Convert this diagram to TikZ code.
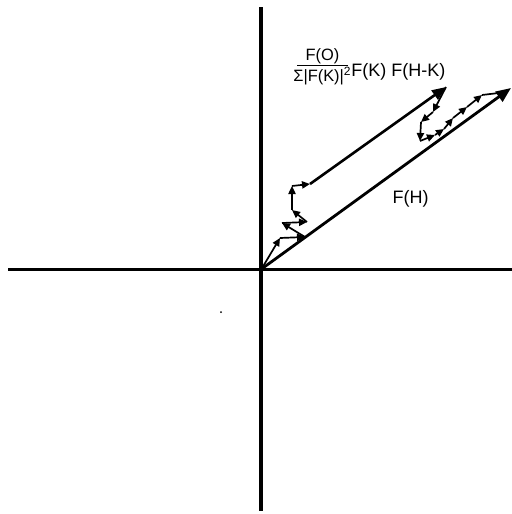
\documentclass[tikz,border=0pt]{standalone}
\usepackage{fontspec}
\setmainfont{Liberation Sans}
\usetikzlibrary{arrows.meta}
\begin{document}
\begin{tikzpicture}[x=0.5pt,y=-0.5pt,
  axis/.style={line width=1.6pt},
  bigvec/.style={line width=1.4pt,-{Triangle[length=7.5pt,width=6pt]}},
  midvec/.style={line width=1.3pt,-{Triangle[length=7pt,width=5.5pt]}},
  smallvec/.style={line width=0.85pt,-{Triangle[length=4pt,width=3.6pt]}},
  lbl/.style={inner sep=0pt,font=\fontsize{9}{10}\selectfont},
  fraclbl/.style={inner sep=0pt,font=\fontsize{8.2}{10}\selectfont}]
\useasboundingbox (0,0) rectangle (512,514);
% axes
\coordinate (L) at (8,269.5);
\coordinate (R) at (512,269.5);
\coordinate (Top) at (261,7);
\coordinate (Bot) at (261,511);
\coordinate (O) at (261.5,269);
\draw[axis] (L) -- (R);
\draw[axis] (Top) -- (Bot);
% F(H)
\coordinate (H) at (511,88);
\draw[bigvec] (O) -- (H);
% chain 1
\coordinate (a1) at (280,238);
\coordinate (a2) at (305,237);
\coordinate (a3) at (282,223);
\coordinate (a4) at (307,222);
\coordinate (a5) at (292,210);
\coordinate (a6) at (292,186);
\coordinate (a7) at (310,184);
\coordinate (T) at (446,87);
\draw[smallvec] (O) -- (a1);
\draw[smallvec] (a1) -- (a2);
\draw[smallvec] (a2) -- (a3);
\draw[smallvec] (a3) -- (a4);
\draw[smallvec] (a4) -- (a5);
\draw[smallvec] (a5) -- (a6);
\draw[smallvec] (a6) -- (a7);
\draw[midvec] (a7) -- (T);
% chain 2
\coordinate (b1) at (433,112);
\coordinate (b2) at (421,122);
\coordinate (b3) at (420,141);
\coordinate (b4) at (435,135);
\coordinate (b5) at (444,129);
\coordinate (b6) at (453,118);
\coordinate (b7) at (467,107);
\coordinate (b8) at (482,95);
\coordinate (b9) at (507,92);
\draw[smallvec] (T) -- (b1);
\draw[smallvec] (b1) -- (b2);
\draw[smallvec] (b2) -- (b3);
\draw[smallvec] (b3) -- (b4);
\draw[smallvec] (b4) -- (b5);
\draw[smallvec] (b5) -- (b6);
\draw[smallvec] (b6) -- (b7);
\draw[smallvec] (b7) -- (b8);
\draw[line width=0.85pt] (b8) -- (b9);
% labels
\node[lbl] (fh) at (410.5,198.5) {F(H)};
\node[lbl,anchor=west] (fk) at (351,72) {F(K) F(H-K)};
\coordinate (barL) at (297,65.5);
\coordinate (barR) at (348,65.5);
\draw[line width=0.5pt] (barL) -- (barR);
\node[fraclbl,anchor=south] (num) at (322.5,64.5) {F(O)};
\node[fraclbl,anchor=north] (den) at (322.5,67) {Σ|F(K)|$^{\mbox{\fontsize{6}{7}\selectfont 2}}$};
% dot
\fill (221,312) circle (1);
\end{tikzpicture}
\end{document}
